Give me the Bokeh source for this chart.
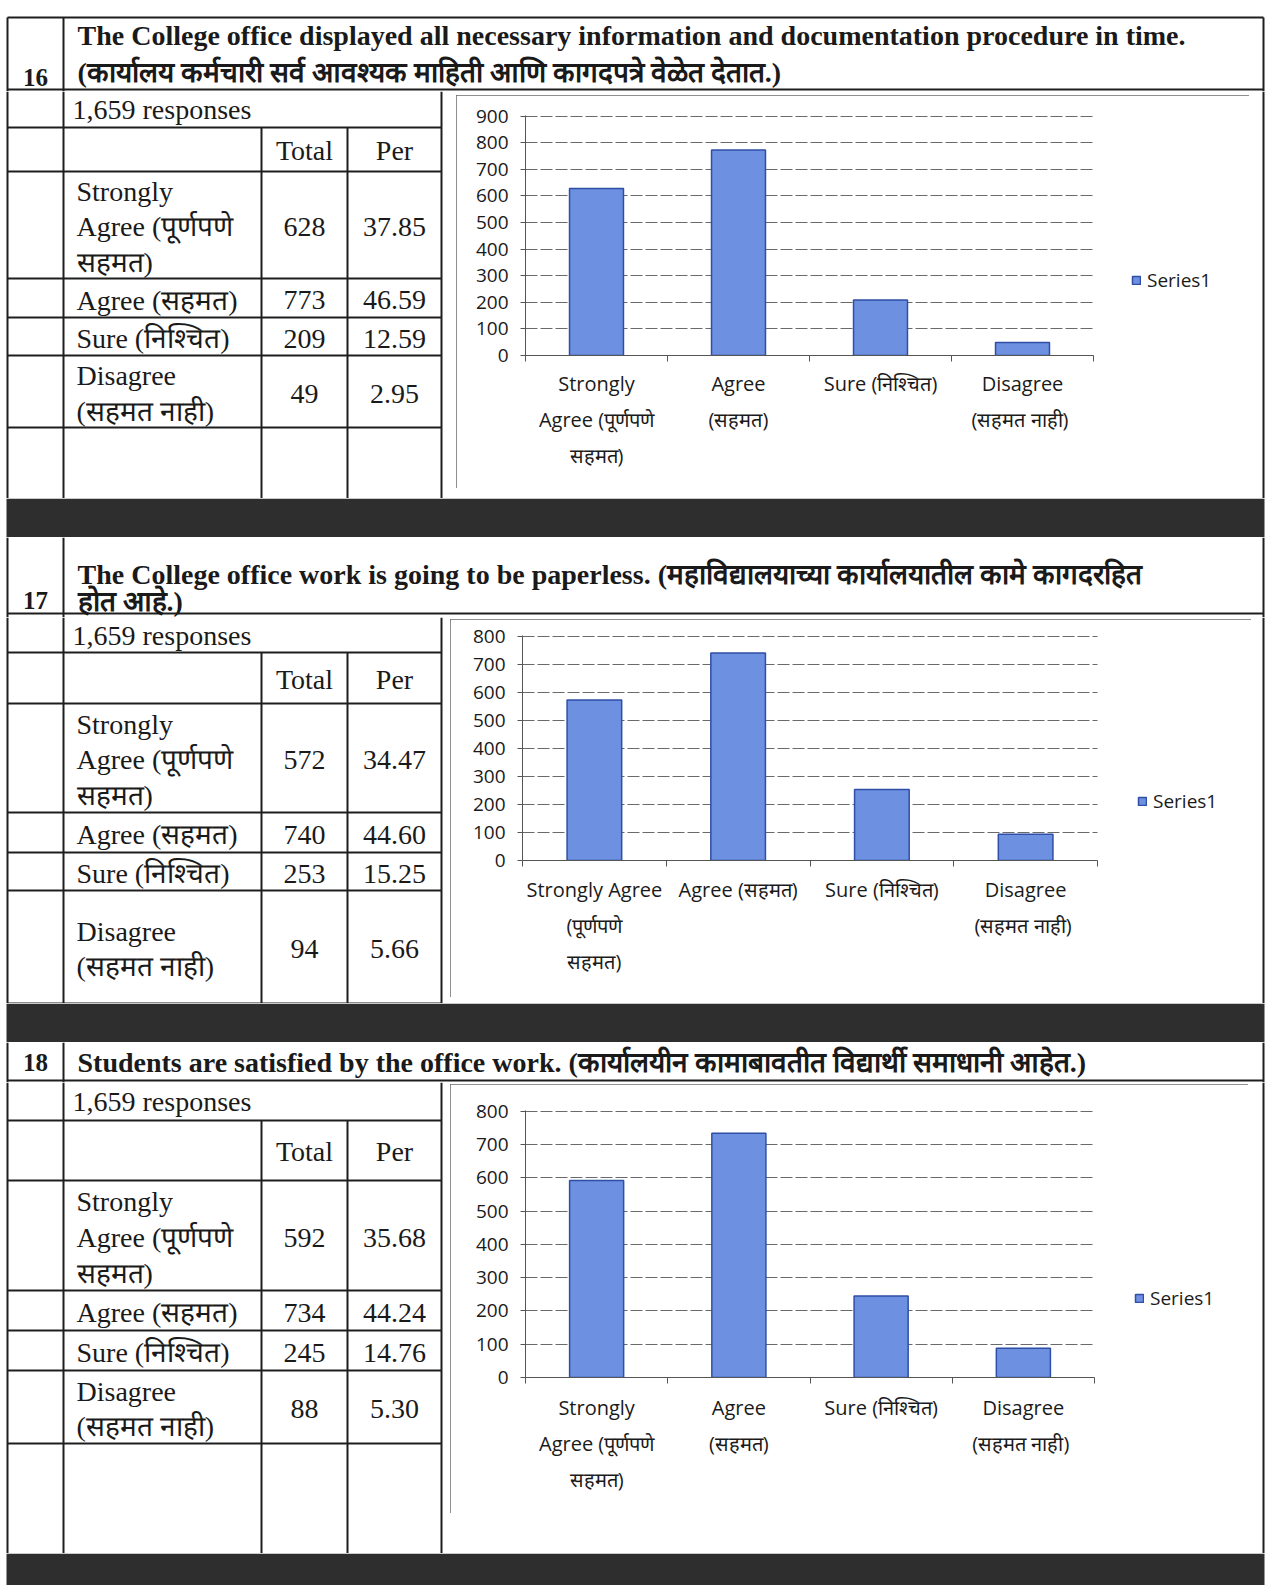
from bokeh.plotting import figure
from bokeh.layouts import column, row
from bokeh.models import Range1d, ColumnDataSource, FixedTicker, Legend, LegendItem, Spacer, Grid
from bokeh.core.properties import value
from bokeh.embed import file_html
from bokeh.resources import INLINE

# ---------------- data ----------------
question_numbers = ["16", "17", "18"]
title_16 = ["The College office displayed all necessary information and documentation procedure in time.",
            "(कार्यालय कर्मचारी सर्व आवश्यक माहिती आणि कागदपत्रे वेळेत देतात.)"]
title_17 = ["The College office work is going to be paperless. (महाविद्यालयाच्या कार्यालयातील कामे कागदरहित",
            "होत आहे.)"]
title_18 = ["Students are satisfied by the office work. (कार्यालयीन कामाबावतीत विद्यार्थी समाधानी आहेत.)"]
responses_text = "1,659 responses"
column_heads = ["Total", "Per"]
table_labels = ["Strongly\nAgree (पूर्णपणे\nसहमत)", "Agree (सहमत)", "Sure (निश्चित)", "Disagree\n(सहमत नाही)"]
chart_labels_16 = ["Strongly\nAgree (पूर्णपणे\nसहमत)", "Agree\n(सहमत)", "Sure (निश्चित)", "Disagree\n(सहमत  नाही)"]
chart_labels_17 = ["Strongly Agree\n(पूर्णपणे\nसहमत)", "Agree (सहमत)", "Sure (निश्चित)", "Disagree\n(सहमत  नाही)"]
chart_labels_18 = ["Strongly\nAgree (पूर्णपणे\nसहमत)", "Agree\n(सहमत)", "Sure (निश्चित)", "Disagree\n(सहमत  नाही)"]
totals_16 = [628, 773, 209, 49]
percent_16 = ["37.85", "46.59", "12.59", "2.95"]
totals_17 = [572, 740, 253, 94]
percent_17 = ["34.47", "44.60", "15.25", "5.66"]
totals_18 = [592, 734, 245, 88]
percent_18 = ["35.68", "44.24", "14.76", "5.30"]
y_ticks_16 = [0, 100, 200, 300, 400, 500, 600, 700, 800, 900]
y_ticks_17 = [0, 100, 200, 300, 400, 500, 600, 700, 800]
y_ticks_18 = [0, 100, 200, 300, 400, 500, 600, 700, 800]
series_name = "Series1"

# ---------------- styles ----------------
SERIF = "Liberation Serif"
SANS = "Open Sans"
INK = "#1a1a1a"
LINE = "#1e1e1e"
BAND = "#2e2e2e"
BAR = "#6e90e0"
BAR_EDGE = "#2f4ea6"
AXIS = "#555555"
GRID = "#6a6a6a"

X0, X1 = 0, 1273          # page area
XL, XN, XT, XP, XR = 7, 63, 261, 347, 441   # table vertical lines
XRB = 1263                # right page border


def blank(x0, x1, y0, y1):
    p = figure(width=x1 - x0, height=y1 - y0, x_range=Range1d(x0, x1), y_range=Range1d(y1, y0),
               output_backend="svg", toolbar_location=None, x_axis_location=None,
               y_axis_location=None, min_border=0)
    p.grid.visible = False
    p.outline_line_color = None
    p.background_fill_color = "white"
    p.border_fill_color = "white"
    return p


def lines(p, segs, width=2):
    x0 = [s[0] for s in segs]; y0 = [s[1] for s in segs]
    x1 = [s[2] for s in segs]; y1 = [s[3] for s in segs]
    p.segment(x0=x0, y0=y0, x1=x1, y1=y1, line_color=LINE, line_width=width)


def header(num, titles, y0, y1, title_y, num_y, bottom_line, top_line=None):
    p = blank(X0, X1, y0, y1)
    t = y0 if top_line is None else top_line
    segs = [(XL, t, XL, y1), (XN, t, XN, y1), (XRB, t, XRB, y1), (XL, bottom_line, XRB, bottom_line)]
    if top_line is not None:
        segs.append((XL, top_line, XRB, top_line))
    lines(p, segs)
    p.text(x=[77] * len(titles), y=title_y, text=titles, text_align="left", text_baseline="middle",
           text_font=value(SERIF), text_font_style="bold", text_font_size=value("28px"), text_color=INK)
    p.text(x=[35], y=[num_y], text=[num], text_align="center", text_baseline="middle",
           text_font=value(SERIF), text_font_style="bold", text_font_size=value("25px"), text_color=INK)
    return p


def table(x1, y0, y1, resp_b, tot_b, row_b, totals, percents):
    p = blank(X0, x1, y0, y1)
    segs = [(XL, y0, XL, y1), (XN, y0, XN, y1), (XR, y0, XR, y1),
            (XT, resp_b, XT, y1), (XP, resp_b, XP, y1),
            (XL, resp_b, XR, resp_b), (XL, tot_b, XR, tot_b)]
    for b in row_b:
        segs.append((XL, b, XR, b))
    lines(p, segs)
    font = dict(text_font=value(SERIF), text_font_size=value("28px"), text_color=INK, text_baseline="middle")
    p.text(x=[72], y=[(y0 + resp_b) / 2], text=[responses_text], text_align="left", **font)
    p.text(x=[(XT + XP) / 2, (XP + XR) / 2], y=[(resp_b + tot_b) / 2 + 1] * 2, text=column_heads,
           text_align="center", **font)
    tops = [tot_b] + row_b[:-1]
    mids = [(a + b) / 2 + 2 for a, b in zip(tops, row_b)]
    src = ColumnDataSource(dict(y=mids, lab=table_labels, tot=[str(v) for v in totals], per=percents,
                                xl=[76] * 4, xt=[(XT + XP) / 2] * 4, xp=[(XP + XR) / 2] * 4))
    p.text(x="xl", y="y", text="lab", source=src, text_align="left", text_line_height=1.16, **font)
    p.text(x="xt", y="y", text="tot", source=src, text_align="center", **font)
    p.text(x="xp", y="y", text="per", source=src, text_align="center", **font)
    return p


def strip(x0, y0, y1):
    p = blank(x0, X1, y0, y1)
    lines(p, [(XRB, y0, XRB, y1)])
    return p


def band(y0, y1):
    p = blank(X0, X1, y0, y1)
    p.quad(left=[XL - 1], right=[XRB + 1], top=[y0], bottom=[y1], fill_color=BAND, line_color=None)
    return p


def bar_chart(labels, vals, ticks, box, plot, standoff, leg_xy):
    """box: chart-area rectangle, plot: value-area rectangle (page pixels)."""
    n = len(vals)
    ymax = ticks[-1]
    bx0, bx1, by0, by1 = box
    px0, px1, py0, py1 = plot
    bl, bt, bb, br = px0 - bx0, py0 - by0, by1 - py1, 8
    frame_w = (bx1 - bx0) - bl - br
    x_end = n * frame_w / (px1 - px0)
    src = ColumnDataSource(dict(x=[i + 0.5 for i in range(n)], top=vals))
    p = figure(width=bx1 - bx0, height=by1 - by0, x_range=Range1d(0, x_end), y_range=Range1d(0, ymax * 1.003),
               output_backend="svg", toolbar_location=None,
               min_border_left=bl, min_border_right=br, min_border_top=bt, min_border_bottom=bb,
               styles={"outline": "1px solid #6a6a6a", "outline-offset": "-1px"})
    p.outline_line_color = None
    p.background_fill_color = "white"
    p.border_fill_color = "white"
    p.xgrid.visible = False

    # horizontal gridlines: only across the category span
    g = p.ygrid[0]
    if "cross_bounds" in Grid.properties():
        g.ticker = FixedTicker(ticks=ticks[1:])
        g.cross_bounds = (0, n)
        g.grid_line_color = GRID
        g.grid_line_dash = "12 3"
        g.grid_line_width = 1.2
    else:
        g.visible = False
        gsrc = ColumnDataSource(dict(y=ticks[1:], x0=[0] * (len(ticks) - 1), x1=[n] * (len(ticks) - 1)))
        p.segment(x0="x0", x1="x1", y0="y", y1="y", source=gsrc, line_color=GRID,
                  line_dash="12 3", line_width=1.2)

    r = p.vbar(x="x", top="top", bottom=0, width=0.38, source=src, fill_color=BAR,
               line_color=BAR_EDGE, line_width=1.5)

    xa = p.xaxis[0]
    xa.bounds = (0, n)
    xa.ticker = FixedTicker(ticks=[i + 0.5 for i in range(n)], minor_ticks=list(range(n + 1)))
    xa.major_label_overrides = {i + 0.5: lab for i, lab in enumerate(labels)}
    xa.major_tick_out = 0
    xa.major_tick_in = 0
    xa.minor_tick_out = 6
    xa.minor_tick_in = 0
    xa.minor_tick_line_color = AXIS
    xa.axis_line_color = AXIS
    xa.major_label_standoff = standoff
    xa.major_label_text_font = SANS
    xa.major_label_text_font_size = "20px"
    xa.major_label_text_color = INK
    xa.major_label_text_line_height = 1.35

    ya = p.yaxis[0]
    ya.ticker = FixedTicker(ticks=ticks)
    ya.major_tick_out = 5
    ya.major_tick_in = 0
    ya.minor_tick_line_color = None
    ya.axis_line_color = AXIS
    ya.major_tick_line_color = AXIS
    ya.major_label_standoff = 12
    ya.major_label_text_font = SANS
    ya.major_label_text_font_size = "19px"
    ya.major_label_text_color = INK

    leg = Legend(items=[LegendItem(label=series_name, renderers=[r])], location=leg_xy,
                 glyph_width=10, glyph_height=10, label_text_font=SANS, label_text_font_size="19px",
                 label_text_color=INK, border_line_color=None, background_fill_alpha=0,
                 padding=0, margin=0, label_standoff=6)
    p.add_layout(leg)
    return p


# ---------------- section 16 ----------------
h16 = header(question_numbers[0], title_16, 0, 91, [35, 72], [77], 89, top_line=17)
t16 = table(456, 91, 498, 127, 171, [278, 317, 355, 427], totals_16, percent_16)
c16 = bar_chart(chart_labels_16, totals_16, y_ticks_16, (456, 1249, 95, 488), (525, 1093, 115, 355), 8, (606, 62))
b16 = row(t16, column(Spacer(width=793, height=4), c16, Spacer(width=793, height=10)), strip(1249, 91, 498))
g16 = band(498, 537)

# ---------------- section 17 ----------------
h17 = header(question_numbers[1], title_17, 537, 617, [574, 601], [600], 613)
t17 = table(450, 617, 1003, 652, 703, [812, 852, 890, 1003], totals_17, percent_17)
c17 = bar_chart(chart_labels_17, totals_17, y_ticks_17, (450, 1251, 619, 997), (522, 1097, 635, 860), 9, (615, 46))
b17 = row(t17, column(Spacer(width=801, height=2), c17, Spacer(width=801, height=6)), strip(1251, 617, 1003))
g17 = band(1003, 1042)

# ---------------- section 18 ----------------
h18 = header(question_numbers[2], title_18, 1042, 1082, [1062], [1062], 1080)
t18 = table(450, 1082, 1553, 1120, 1180, [1290, 1330, 1370, 1443], totals_18, percent_18)
c18 = bar_chart(chart_labels_18, totals_18, y_ticks_18, (450, 1248, 1084, 1513), (525, 1094, 1110, 1377), 10, (609, 66))
b18 = row(t18, column(Spacer(width=798, height=2), c18, Spacer(width=798, height=40)), strip(1248, 1082, 1553))
g18 = band(1553, 1585)

page = column(h16, b16, g16, h17, b17, g17, h18, b18, g18)

open("out.html", "w").write(file_html(page, INLINE))
